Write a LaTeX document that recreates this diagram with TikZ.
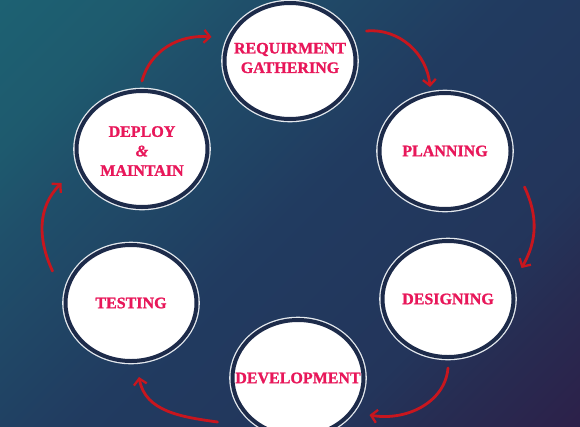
\documentclass[tikz,border=0pt]{standalone}
\usepackage{fontspec}
\setmainfont{Liberation Serif}
\newfontfamily\stagefont[FakeBold=1.2]{Liberation Serif Bold}
\newfontfamily\ampfont[FakeBold=1.2]{Liberation Serif Bold Italic}
\usetikzlibrary{shapes.geometric, arrows.meta}

\definecolor{bgteal}{HTML}{1C6675}
\definecolor{bgnavy}{HTML}{213B60}
\definecolor{bgplum}{HTML}{301843}
\definecolor{ringnavy}{HTML}{1D2B4A}
\definecolor{ringwhite}{HTML}{E4E9EE}
\definecolor{labelpink}{HTML}{E8175A}
\definecolor{arrowred}{HTML}{C8161E}

\pgfdeclareverticalshading{backdrop}{100bp}{color(0bp)=(bgplum); color(7bp)=(bgplum);
    color(25bp)=(rgb,255:red,39;green,44;blue,82); color(32bp)=(rgb,255:red,35;green,53;blue,91);
    color(50bp)=(bgnavy); color(68bp)=(rgb,255:red,31;green,79;blue,106);
    color(75bp)=(rgb,255:red,30;green,90;blue,110); color(93bp)=(bgteal); color(100bp)=(bgteal)}

\tikzset{
    stage/.style={ellipse, minimum width=131pt, minimum height=116pt, inner sep=0pt, outer sep=0pt,
        fill=white, draw=ringnavy, line width=4pt, preaction={draw=ringwhite, line width=6.6pt}},
    stagetext/.style={text=labelpink, align=center, font=\stagefont\fontsize{16}{19.5}\selectfont},
    flow/.style={draw=arrowred, line width=2.8pt, line cap=round,
        -{Straight Barb[length=6pt, width=13pt, line width=2.3pt]}}
}

\begin{document}
\begin{tikzpicture}[x=1pt, y=1pt]
    \useasboundingbox (0, 0) rectangle (580, -426);
    \clip (0, 0) rectangle (580, -426);
    \shade [shading=backdrop, shading angle=45] (0, 0) rectangle (580, -426);

    % stages
    \node [stage, label={[stagetext, yshift=3pt]center:REQUIRMENT\\GATHERING}] (req) at (290, -61) {};
    \node [stage, label={[stagetext]center:PLANNING}] (plan) at (445, -151) {};
    \node [stage, label={[stagetext]center:DESIGNING}] (des) at (448, -299) {};
    \node [stage, label={[stagetext]center:DEVELOPMENT}] (dev) at (298, -378) {};
    \node [stage, label={[stagetext]center:TESTING}] (test) at (131, -303) {};
    \node [stage, label={[stagetext, yshift=-2pt]center:DEPLOY\\{\ampfont\&}\\MAINTAIN}] (dep) at (142, -149) {};

    % cycle arrows
    \draw [flow] ([yshift=10pt]dep.north) to [out=75, in=175] ([xshift=-13pt, yshift=24pt]req.west);
    \draw [flow] ([xshift=11pt, yshift=30pt]req.east) to [out=5, in=95] ([xshift=-15pt, yshift=6pt]plan.north);
    \draw [flow] ([xshift=14pt, yshift=-36pt]plan.east) to [out=-65, in=60] ([xshift=8pt, yshift=31pt]des.east);
    \draw [flow] ([yshift=-11pt]des.south) to [out=-95, in=-10] ([xshift=6pt, yshift=-37pt]dev.east);
    \draw [flow] ([xshift=-15pt, yshift=-44pt]dev.west) to [out=172, in=-80] ([xshift=8pt, yshift=-16pt]test.south);
    \draw [flow] ([xshift=-13pt, yshift=32pt]test.west) to [out=115, in=225] ([xshift=-15pt, yshift=-34pt]dep.west);
\end{tikzpicture}
\end{document}
